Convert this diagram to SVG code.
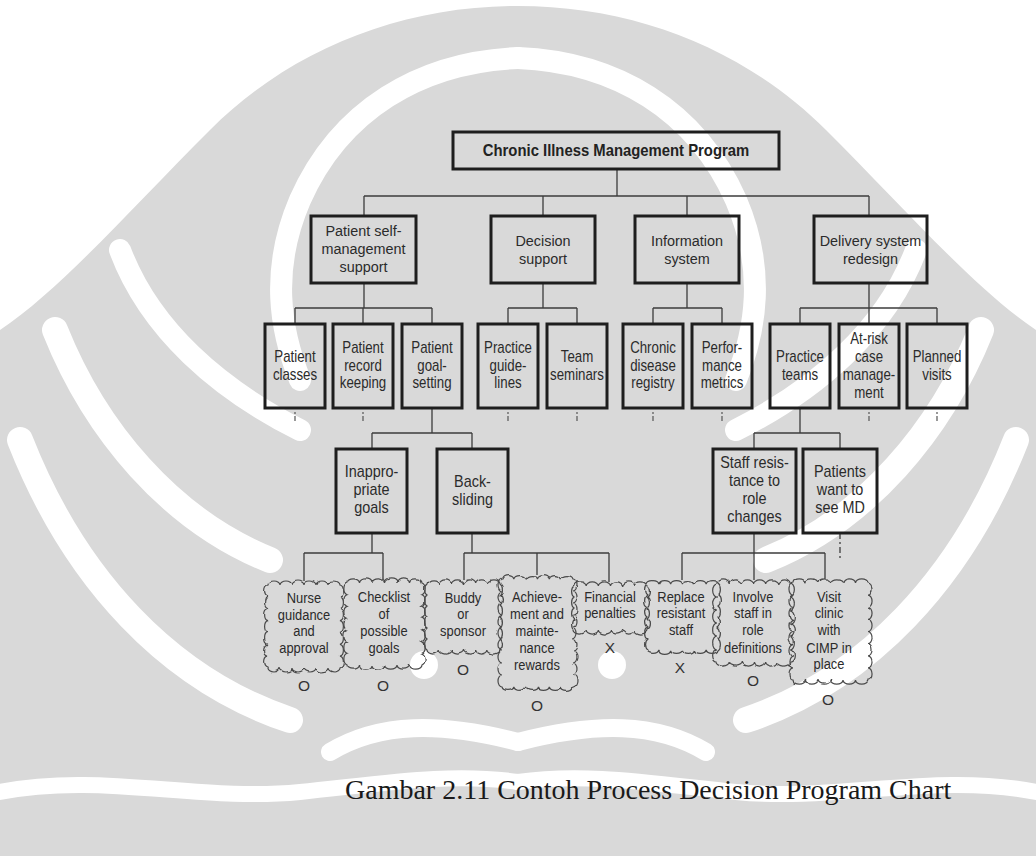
<svg xmlns="http://www.w3.org/2000/svg" width="1036" height="856" viewBox="0 0 1036 856">
<defs>
<style>
.wm{fill:#d9d9d9}
.wcut{fill:none;stroke:#fff;stroke-linecap:round}
.box{fill:none;stroke:#1e1e1e;stroke-width:3}
.ln{fill:none;stroke:#3c3c3c;stroke-width:1.3}
.dash{fill:none;stroke:#3c3c3c;stroke-width:1.3;stroke-dasharray:6 3 2 3}
.tick{fill:none;stroke:#555;stroke-width:1.2;stroke-dasharray:2 2 5 20}
.cloud{fill:none;stroke:#4a4a4a;stroke-width:1.2;filter:url(#rough)}
text{font-family:"Liberation Sans",Arial,sans-serif;fill:#2b2b2b;text-anchor:middle}
.t0{font-size:16.5px;font-weight:bold;fill:#222}
.t1{font-size:15.5px}
.t2{font-size:16px}
.t4{font-size:14.5px}
.mk{font-size:15.5px;fill:#333}
.cap{font-family:"Liberation Serif","Times New Roman",serif;font-size:28px;fill:#1a1a1a;text-anchor:start}
</style>
<filter id="rough" x="-10%" y="-10%" width="120%" height="120%">
<feTurbulence type="fractalNoise" baseFrequency="0.07" numOctaves="2" seed="4" result="n"/>
<feDisplacementMap in="SourceGraphic" in2="n" scale="3.5" xChannelSelector="R" yChannelSelector="G"/>
</filter>
<!-- left half of the background emblem; mirrored for the right half -->
<g id="emb-gray">
<path class="wm" d="M518,6 C400,6 290,50 210,130 C130,210 60,290 0,330 L0,856 L518,856 Z"/>
</g>
<g id="emb-cut">
<path class="wcut" stroke-width="22" d="M518,58 C420,62 340,110 300,200 C270,270 280,330 300,380"/>
<path class="wcut" stroke-width="22" d="M300,430 C220,390 150,330 120,250"/>
<path class="wcut" stroke-width="26" d="M270,560 C170,520 95,430 55,330"/>
<path class="wcut" stroke-width="26" d="M290,720 C170,680 75,580 20,440"/>
<path class="wcut" stroke-width="16" d="M0,792 C100,772 200,802 300,792 C380,784 450,772 518,782"/>
<path class="wcut" stroke-width="18" d="M330,752 C380,722 440,722 518,742"/>
<circle cx="424" cy="665" r="14" fill="#fff"/>
</g>
</defs>

<g id="emblem">
<use href="#emb-gray"/>
<use href="#emb-gray" transform="translate(1036 0) scale(-1 1)"/>
<use href="#emb-cut"/>
<use href="#emb-cut" transform="translate(1036 0) scale(-1 1)"/>
</g>

<g id="connectors">
<!-- root to level 1 -->
<path class="ln" d="M617,169 V196 M364,196 H869 M364,196 V216 M543,196 V216 M687,196 V216 M869,196 V216"/>
<!-- level 1 to level 2 -->
<path class="ln" d="M364,283 V308 M295,308 H432 M295,308 V324 M363,308 V324 M432,308 V324"/>
<path class="ln" d="M543,283 V308 M508,308 H577 M508,308 V324 M577,308 V324"/>
<path class="ln" d="M687,283 V308 M653,308 H722 M653,308 V324 M722,308 V324"/>
<path class="ln" d="M869,283 V308 M800,308 H937 M800,308 V324 M869,308 V324 M937,308 V324"/>
<!-- open ends under level 2 -->
<path class="tick" d="M295,412 V422 M363,412 V422 M508,412 V422 M577,412 V422 M653,412 V422 M722,412 V422 M869,412 V422 M937,412 V422"/>
<!-- level 2 to level 3 -->
<path class="ln" d="M432,408 V433 M372,433 H472 M372,433 V449 M472,433 V449"/>
<path class="ln" d="M800,408 V433 M754,433 H840 M754,433 V449 M840,433 V449"/>
<!-- level 3 to countermeasures -->
<path class="ln" d="M372,533 V553 M304,553 H383 M304,553 V581 M383,553 V579"/>
<path class="ln" d="M472,533 V553 M464,553 H609 M464,553 V580 M537,553 V575 M609,553 V582"/>
<path class="ln" d="M754,533 V553 M682,553 H825 M682,553 V580 M754,553 V580 M825,553 V579"/>
<path class="dash" d="M840,533 V558"/>
</g>

<g id="root">
<rect class="box" x="453" y="132" width="326" height="37"/>
<text class="t0" transform="translate(616 0) scale(0.9 1)"><tspan x="0" y="156">Chronic Illness Management Program</tspan></text>
</g>

<g id="self-management">
<rect class="box" x="311" y="216" width="105" height="67"/>
<text class="t1" transform="translate(363.5 0) scale(0.93 1)"><tspan x="0" y="236.5">Patient self-</tspan><tspan x="0" y="254.5">management</tspan><tspan x="0" y="272.5">support</tspan></text>
</g>
<g id="decision-support">
<rect class="box" x="491" y="216" width="104" height="67"/>
<text class="t1" transform="translate(543 0) scale(0.93 1)"><tspan x="0" y="246.5">Decision</tspan><tspan x="0" y="264.5">support</tspan></text>
</g>
<g id="information-system">
<rect class="box" x="635" y="216" width="104" height="67"/>
<text class="t1" transform="translate(687 0) scale(0.93 1)"><tspan x="0" y="246.5">Information</tspan><tspan x="0" y="264.5">system</tspan></text>
</g>
<g id="delivery-redesign">
<rect class="box" x="814" y="216" width="113" height="67"/>
<text class="t1" transform="translate(870.5 0) scale(0.93 1)"><tspan x="0" y="246.5">Delivery system</tspan><tspan x="0" y="264.5">redesign</tspan></text>
</g>

<g id="patient-classes">
<rect class="box" x="265" y="324" width="60" height="84"/>
<text class="t2" transform="translate(295 0) scale(0.83 1)"><tspan x="0" y="362.5">Patient</tspan><tspan x="0" y="380.5">classes</tspan></text>
</g>
<g id="record-keeping">
<rect class="box" x="333" y="324" width="60" height="84"/>
<text class="t2" transform="translate(363 0) scale(0.83 1)"><tspan x="0" y="353.5">Patient</tspan><tspan x="0" y="371">record</tspan><tspan x="0" y="388.5">keeping</tspan></text>
</g>
<g id="goal-setting">
<rect class="box" x="402" y="324" width="60" height="84"/>
<text class="t2" transform="translate(432 0) scale(0.83 1)"><tspan x="0" y="353.5">Patient</tspan><tspan x="0" y="371">goal-</tspan><tspan x="0" y="388.5">setting</tspan></text>
</g>
<g id="practice-guidelines">
<rect class="box" x="478" y="324" width="60" height="84"/>
<text class="t2" transform="translate(508 0) scale(0.83 1)"><tspan x="0" y="353.5">Practice</tspan><tspan x="0" y="371">guide-</tspan><tspan x="0" y="388.5">lines</tspan></text>
</g>
<g id="team-seminars">
<rect class="box" x="547" y="324" width="60" height="84"/>
<text class="t2" transform="translate(577 0) scale(0.83 1)"><tspan x="0" y="362.5">Team</tspan><tspan x="0" y="380.5">seminars</tspan></text>
</g>
<g id="disease-registry">
<rect class="box" x="623" y="324" width="60" height="84"/>
<text class="t2" transform="translate(653 0) scale(0.83 1)"><tspan x="0" y="353.5">Chronic</tspan><tspan x="0" y="371">disease</tspan><tspan x="0" y="388.5">registry</tspan></text>
</g>
<g id="performance-metrics">
<rect class="box" x="692" y="324" width="60" height="84"/>
<text class="t2" transform="translate(722 0) scale(0.83 1)"><tspan x="0" y="353.5">Perfor-</tspan><tspan x="0" y="371">mance</tspan><tspan x="0" y="388.5">metrics</tspan></text>
</g>
<g id="practice-teams">
<rect class="box" x="770" y="324" width="60" height="84"/>
<text class="t2" transform="translate(800 0) scale(0.83 1)"><tspan x="0" y="362.5">Practice</tspan><tspan x="0" y="380.5">teams</tspan></text>
</g>
<g id="case-management">
<rect class="box" x="839" y="324" width="60" height="84"/>
<text class="t2" transform="translate(869 0) scale(0.83 1)"><tspan x="0" y="344">At-risk</tspan><tspan x="0" y="362">case</tspan><tspan x="0" y="380">manage-</tspan><tspan x="0" y="398">ment</tspan></text>
</g>
<g id="planned-visits">
<rect class="box" x="907" y="324" width="60" height="84"/>
<text class="t2" transform="translate(937 0) scale(0.83 1)"><tspan x="0" y="362.5">Planned</tspan><tspan x="0" y="380.5">visits</tspan></text>
</g>

<g id="inappropriate-goals">
<rect class="box" x="336" y="449" width="71" height="84"/>
<text class="t2" transform="translate(371.5 0) scale(0.9 1)"><tspan x="0" y="477">Inappro-</tspan><tspan x="0" y="495">priate</tspan><tspan x="0" y="513">goals</tspan></text>
</g>
<g id="back-sliding">
<rect class="box" x="437" y="449" width="71" height="84"/>
<text class="t2" transform="translate(472.5 0) scale(0.9 1)"><tspan x="0" y="487">Back-</tspan><tspan x="0" y="505">sliding</tspan></text>
</g>
<g id="staff-resistance">
<rect class="box" x="713" y="449" width="83" height="84"/>
<text class="t2" transform="translate(754.5 0) scale(0.9 1)"><tspan x="0" y="468">Staff resis-</tspan><tspan x="0" y="486">tance to</tspan><tspan x="0" y="504">role</tspan><tspan x="0" y="522">changes</tspan></text>
</g>
<g id="patients-want-md">
<rect class="box" x="803" y="449" width="74" height="84"/>
<text class="t2" transform="translate(840 0) scale(0.9 1)"><tspan x="0" y="477">Patients</tspan><tspan x="0" y="495">want to</tspan><tspan x="0" y="513">see MD</tspan></text>
</g>

<!-- scalloped outlines for the countermeasure clouds -->
<g id="nurse-guidance">
<path class="cloud" d="M268,585 a6,4 0 0 1 12,0 a6,4 0 0 1 12,0 a6,4 0 0 1 12,0 a6,4 0 0 1 12,0 a6,4 0 0 1 12,0 a6,4 0 0 1 12,0 a4,6 0 0 1 0,11.86 a4,6 0 0 1 0,11.86 a4,6 0 0 1 0,11.86 a4,6 0 0 1 0,11.86 a4,6 0 0 1 0,11.86 a4,6 0 0 1 0,11.86 a4,6 0 0 1 0,11.86 a6,4 0 0 1 -12,0 a6,4 0 0 1 -12,0 a6,4 0 0 1 -12,0 a6,4 0 0 1 -12,0 a6,4 0 0 1 -12,0 a6,4 0 0 1 -12,0 a4,6 0 0 1 0,-11.86 a4,6 0 0 1 0,-11.86 a4,6 0 0 1 0,-11.86 a4,6 0 0 1 0,-11.86 a4,6 0 0 1 0,-11.86 a4,6 0 0 1 0,-11.86 a4,6 0 0 1 0,-11.86 Z"/>
<text class="t4" transform="translate(304 0) scale(0.89 1)"><tspan x="0" y="603">Nurse</tspan><tspan x="0" y="620">guidance</tspan><tspan x="0" y="636">and</tspan><tspan x="0" y="653">approval</tspan></text>
<text class="mk" x="304" y="690.5">O</text>
</g>
<g id="goal-checklist">
<path class="cloud" d="M347,583 a6,4 0 0 1 12.5,0 a6,4 0 0 1 12.5,0 a6,4 0 0 1 12.5,0 a6,4 0 0 1 12.5,0 a6,4 0 0 1 12.5,0 a6,4 0 0 1 12.5,0 a4,6 0 0 1 0,11.71 a4,6 0 0 1 0,11.71 a4,6 0 0 1 0,11.71 a4,6 0 0 1 0,11.71 a4,6 0 0 1 0,11.71 a4,6 0 0 1 0,11.71 a4,6 0 0 1 0,11.71 a6,4 0 0 1 -12.5,0 a6,4 0 0 1 -12.5,0 a6,4 0 0 1 -12.5,0 a6,4 0 0 1 -12.5,0 a6,4 0 0 1 -12.5,0 a6,4 0 0 1 -12.5,0 a4,6 0 0 1 0,-11.71 a4,6 0 0 1 0,-11.71 a4,6 0 0 1 0,-11.71 a4,6 0 0 1 0,-11.71 a4,6 0 0 1 0,-11.71 a4,6 0 0 1 0,-11.71 a4,6 0 0 1 0,-11.71 Z"/>
<text class="t4" transform="translate(384 0) scale(0.89 1)"><tspan x="0" y="602">Checklist</tspan><tspan x="0" y="619">of</tspan><tspan x="0" y="636">possible</tspan><tspan x="0" y="653">goals</tspan></text>
<text class="mk" x="383" y="690.5">O</text>
</g>
<g id="buddy-sponsor">
<path class="cloud" d="M427,584 a6,4 0 0 1 12.17,0 a6,4 0 0 1 12.17,0 a6,4 0 0 1 12.17,0 a6,4 0 0 1 12.17,0 a6,4 0 0 1 12.17,0 a6,4 0 0 1 12.17,0 a4,6 0 0 1 0,11 a4,6 0 0 1 0,11 a4,6 0 0 1 0,11 a4,6 0 0 1 0,11 a4,6 0 0 1 0,11 a4,6 0 0 1 0,11 a6,4 0 0 1 -12.17,0 a6,4 0 0 1 -12.17,0 a6,4 0 0 1 -12.17,0 a6,4 0 0 1 -12.17,0 a6,4 0 0 1 -12.17,0 a6,4 0 0 1 -12.17,0 a4,6 0 0 1 0,-11 a4,6 0 0 1 0,-11 a4,6 0 0 1 0,-11 a4,6 0 0 1 0,-11 a4,6 0 0 1 0,-11 a4,6 0 0 1 0,-11 Z"/>
<text class="t4" transform="translate(463 0) scale(0.89 1)"><tspan x="0" y="603">Buddy</tspan><tspan x="0" y="619">or</tspan><tspan x="0" y="636">sponsor</tspan></text>
<text class="mk" x="463" y="674.5">O</text>
</g>
<g id="achievement-rewards">
<path class="cloud" d="M502,579 a6,4 0 0 1 11.83,0 a6,4 0 0 1 11.83,0 a6,4 0 0 1 11.83,0 a6,4 0 0 1 11.83,0 a6,4 0 0 1 11.83,0 a6,4 0 0 1 11.83,0 a4,6 0 0 1 0,12 a4,6 0 0 1 0,12 a4,6 0 0 1 0,12 a4,6 0 0 1 0,12 a4,6 0 0 1 0,12 a4,6 0 0 1 0,12 a4,6 0 0 1 0,12 a4,6 0 0 1 0,12 a4,6 0 0 1 0,12 a6,4 0 0 1 -11.83,0 a6,4 0 0 1 -11.83,0 a6,4 0 0 1 -11.83,0 a6,4 0 0 1 -11.83,0 a6,4 0 0 1 -11.83,0 a6,4 0 0 1 -11.83,0 a4,6 0 0 1 0,-12 a4,6 0 0 1 0,-12 a4,6 0 0 1 0,-12 a4,6 0 0 1 0,-12 a4,6 0 0 1 0,-12 a4,6 0 0 1 0,-12 a4,6 0 0 1 0,-12 a4,6 0 0 1 0,-12 a4,6 0 0 1 0,-12 Z"/>
<text class="t4" transform="translate(537 0) scale(0.89 1)"><tspan x="0" y="602">Achieve-</tspan><tspan x="0" y="619">ment and</tspan><tspan x="0" y="636">mainte-</tspan><tspan x="0" y="653">nance</tspan><tspan x="0" y="670">rewards</tspan></text>
<text class="mk" x="537" y="710.5">O</text>
</g>
<g id="financial-penalties">
<path class="cloud" d="M574,586 a6,4 0 0 1 12.17,0 a6,4 0 0 1 12.17,0 a6,4 0 0 1 12.17,0 a6,4 0 0 1 12.17,0 a6,4 0 0 1 12.17,0 a6,4 0 0 1 12.17,0 a4,6 0 0 1 0,11 a4,6 0 0 1 0,11 a4,6 0 0 1 0,11 a4,6 0 0 1 0,11 a6,4 0 0 1 -12.17,0 a6,4 0 0 1 -12.17,0 a6,4 0 0 1 -12.17,0 a6,4 0 0 1 -12.17,0 a6,4 0 0 1 -12.17,0 a6,4 0 0 1 -12.17,0 a4,6 0 0 1 0,-11 a4,6 0 0 1 0,-11 a4,6 0 0 1 0,-11 a4,6 0 0 1 0,-11 Z"/>
<text class="t4" transform="translate(610 0) scale(0.89 1)"><tspan x="0" y="602">Financial</tspan><tspan x="0" y="618">penalties</tspan></text>
<text class="mk" x="610" y="652.5">X</text>
</g>
<g id="replace-staff">
<path class="cloud" d="M647,584 a6,4 0 0 1 11.83,0 a6,4 0 0 1 11.83,0 a6,4 0 0 1 11.83,0 a6,4 0 0 1 11.83,0 a6,4 0 0 1 11.83,0 a6,4 0 0 1 11.83,0 a4,6 0 0 1 0,11 a4,6 0 0 1 0,11 a4,6 0 0 1 0,11 a4,6 0 0 1 0,11 a4,6 0 0 1 0,11 a4,6 0 0 1 0,11 a6,4 0 0 1 -11.83,0 a6,4 0 0 1 -11.83,0 a6,4 0 0 1 -11.83,0 a6,4 0 0 1 -11.83,0 a6,4 0 0 1 -11.83,0 a6,4 0 0 1 -11.83,0 a4,6 0 0 1 0,-11 a4,6 0 0 1 0,-11 a4,6 0 0 1 0,-11 a4,6 0 0 1 0,-11 a4,6 0 0 1 0,-11 a4,6 0 0 1 0,-11 Z"/>
<text class="t4" transform="translate(681 0) scale(0.89 1)"><tspan x="0" y="602">Replace</tspan><tspan x="0" y="618">resistant</tspan><tspan x="0" y="635">staff</tspan></text>
<text class="mk" x="680" y="672.5">X</text>
</g>
<g id="involve-staff">
<path class="cloud" d="M717,584 a6,4 0 0 1 12.17,0 a6,4 0 0 1 12.17,0 a6,4 0 0 1 12.17,0 a6,4 0 0 1 12.17,0 a6,4 0 0 1 12.17,0 a6,4 0 0 1 12.17,0 a4,6 0 0 1 0,13 a4,6 0 0 1 0,13 a4,6 0 0 1 0,13 a4,6 0 0 1 0,13 a4,6 0 0 1 0,13 a4,6 0 0 1 0,13 a6,4 0 0 1 -12.17,0 a6,4 0 0 1 -12.17,0 a6,4 0 0 1 -12.17,0 a6,4 0 0 1 -12.17,0 a6,4 0 0 1 -12.17,0 a6,4 0 0 1 -12.17,0 a4,6 0 0 1 0,-13 a4,6 0 0 1 0,-13 a4,6 0 0 1 0,-13 a4,6 0 0 1 0,-13 a4,6 0 0 1 0,-13 a4,6 0 0 1 0,-13 Z"/>
<text class="t4" transform="translate(753 0) scale(0.89 1)"><tspan x="0" y="602">Involve</tspan><tspan x="0" y="618">staff in</tspan><tspan x="0" y="635">role</tspan><tspan x="0" y="653">definitions</tspan></text>
<text class="mk" x="753" y="685.5">O</text>
</g>
<g id="visit-clinic">
<path class="cloud" d="M793,583 a6,4 0 0 1 12.5,0 a6,4 0 0 1 12.5,0 a6,4 0 0 1 12.5,0 a6,4 0 0 1 12.5,0 a6,4 0 0 1 12.5,0 a6,4 0 0 1 12.5,0 a4,6 0 0 1 0,12.13 a4,6 0 0 1 0,12.13 a4,6 0 0 1 0,12.13 a4,6 0 0 1 0,12.13 a4,6 0 0 1 0,12.13 a4,6 0 0 1 0,12.13 a4,6 0 0 1 0,12.13 a4,6 0 0 1 0,12.13 a6,4 0 0 1 -12.5,0 a6,4 0 0 1 -12.5,0 a6,4 0 0 1 -12.5,0 a6,4 0 0 1 -12.5,0 a6,4 0 0 1 -12.5,0 a6,4 0 0 1 -12.5,0 a4,6 0 0 1 0,-12.13 a4,6 0 0 1 0,-12.13 a4,6 0 0 1 0,-12.13 a4,6 0 0 1 0,-12.13 a4,6 0 0 1 0,-12.13 a4,6 0 0 1 0,-12.13 a4,6 0 0 1 0,-12.13 a4,6 0 0 1 0,-12.13 Z"/>
<text class="t4" transform="translate(829 0) scale(0.89 1)"><tspan x="0" y="602">Visit</tspan><tspan x="0" y="618">clinic</tspan><tspan x="0" y="635">with</tspan><tspan x="0" y="653">CIMP in</tspan><tspan x="0" y="669">place</tspan></text>
<text class="mk" x="828" y="704.5">O</text>
</g>

<text class="cap" x="345" y="799">Gambar 2.11 Contoh Process Decision Program Chart</text>
</svg>
